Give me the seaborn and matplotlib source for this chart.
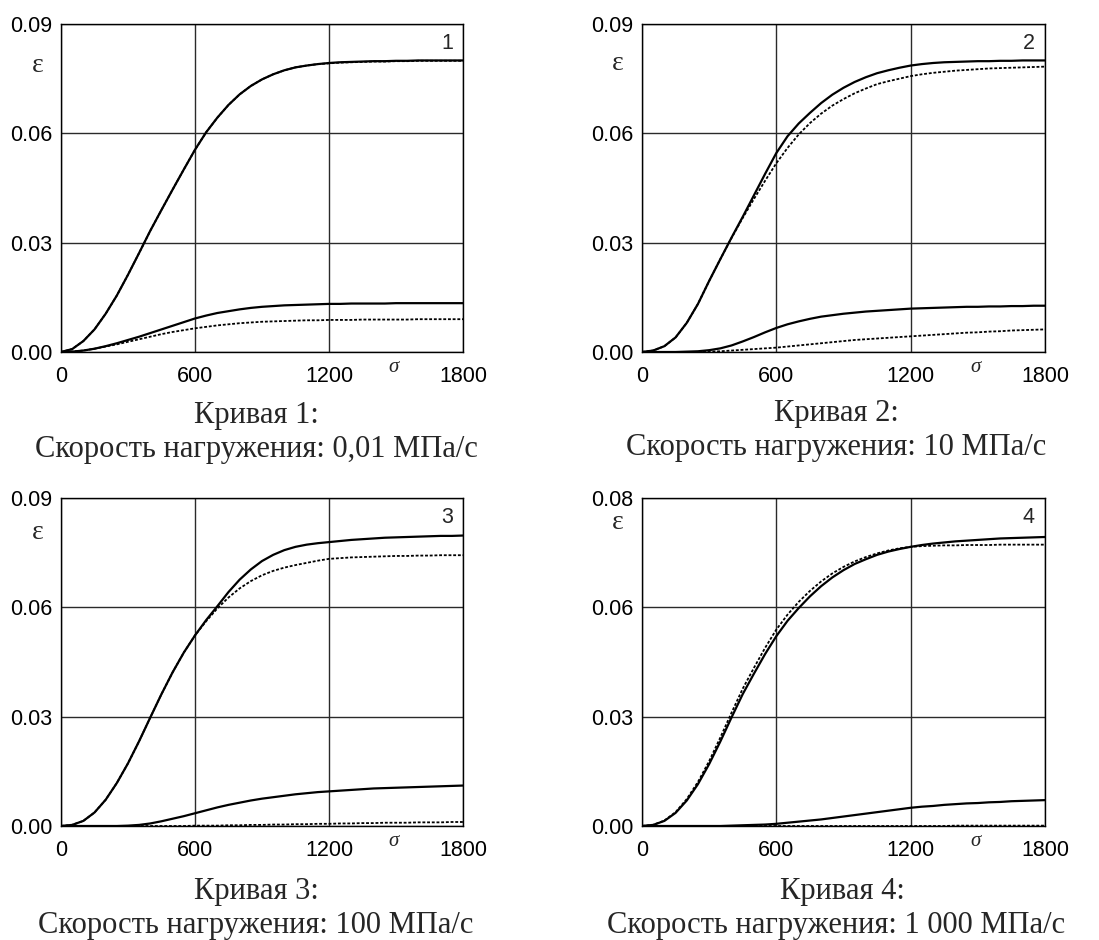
import numpy as np
import pandas as pd
import seaborn as sns
import matplotlib
matplotlib.use("Agg")
import matplotlib.pyplot as plt

sns.set_style("white")
plt.rcParams['font.family'] = ['Liberation Sans', 'DejaVu Sans']

# ---- data, sigma step 50 ----
sigma = [0, 50, 100, 150, 200, 250, 300, 350, 400, 450, 500, 550, 600, 650, 700, 750,
         800, 850, 900, 950, 1000, 1050, 1100, 1150, 1200, 1250, 1300, 1350, 1400,
         1450, 1500, 1550, 1600, 1650, 1700, 1750, 1800]

# Panel 1 (0,01 MPa/s)
p1_upper_solid = [0, 0.0008, 0.0030, 0.0062, 0.0105, 0.0155, 0.0212, 0.0272, 0.0333, 0.0390,
                  0.0446, 0.0501, 0.0555, 0.0603, 0.0643, 0.0678, 0.0707, 0.0730, 0.0748,
                  0.0762, 0.0773, 0.0781, 0.0786, 0.0790, 0.0793, 0.0795, 0.0796, 0.0797,
                  0.0798, 0.0798, 0.0799, 0.0799, 0.0800, 0.0800, 0.0800, 0.0800, 0.0800]
p1_upper_dot = [0, 0.0008, 0.0030, 0.0062, 0.0105, 0.0155, 0.0212, 0.0272, 0.0333, 0.0390,
                0.0446, 0.0501, 0.0555, 0.0603, 0.0643, 0.0678, 0.0707, 0.0730, 0.0748,
                0.0762, 0.0773, 0.0781, 0.0786, 0.0790, 0.0792, 0.0794, 0.0795, 0.0796,
                0.0797, 0.0797, 0.0798, 0.0798, 0.0799, 0.0799, 0.0799, 0.0799, 0.0799]
p1_lower_solid = [0, 0.0001, 0.0004, 0.0009, 0.0016, 0.0024, 0.0033, 0.0042, 0.0052, 0.0062,
                  0.0072, 0.0082, 0.0092, 0.0100, 0.0107, 0.0112, 0.0117, 0.0121, 0.0124,
                  0.0126, 0.0128, 0.0129, 0.0130, 0.0131, 0.0132, 0.0132, 0.0133, 0.0133,
                  0.0133, 0.0133, 0.0134, 0.0134, 0.0134, 0.0134, 0.0134, 0.0134, 0.0134]
p1_lower_dot = [0, 0.0001, 0.0004, 0.0009, 0.0015, 0.0021, 0.0028, 0.0035, 0.0042, 0.0049,
                0.0055, 0.0060, 0.0065, 0.0069, 0.0073, 0.0076, 0.0079, 0.0081, 0.0083,
                0.0084, 0.0085, 0.0086, 0.0087, 0.0087, 0.0088, 0.0088, 0.0088, 0.0089,
                0.0089, 0.0089, 0.0089, 0.0089, 0.0090, 0.0090, 0.0090, 0.0090, 0.0090]

# Panel 2 (10 MPa/s)
p2_upper_solid = [0, 0.0004, 0.0016, 0.0040, 0.0080, 0.0132, 0.0195, 0.0255, 0.0314, 0.0371,
                  0.0430, 0.0489, 0.0546, 0.0592, 0.0627, 0.0656, 0.0683, 0.0706, 0.0725,
                  0.0741, 0.0754, 0.0765, 0.0773, 0.0780, 0.0786, 0.0790, 0.0793, 0.0795,
                  0.0796, 0.0797, 0.0798, 0.0798, 0.0799, 0.0799, 0.0800, 0.0800, 0.0800]
p2_upper_dot = [0, 0.0004, 0.0016, 0.0040, 0.0080, 0.0132, 0.0195, 0.0255, 0.0313, 0.0368,
                0.0420, 0.0470, 0.0518, 0.0560, 0.0597, 0.0628, 0.0654, 0.0676, 0.0694,
                0.0710, 0.0723, 0.0735, 0.0743, 0.0750, 0.0757, 0.0762, 0.0766, 0.0769,
                0.0772, 0.0774, 0.0776, 0.0778, 0.0779, 0.0780, 0.0781, 0.0782, 0.0783]
p2_lower_solid = [0, 0, 0, 0, 0.0001, 0.0002, 0.0005, 0.0010, 0.0018, 0.0029,
                  0.0041, 0.0054, 0.0066, 0.0076, 0.0084, 0.0091, 0.0097, 0.0101, 0.0105,
                  0.0108, 0.0111, 0.0113, 0.0115, 0.0117, 0.0119, 0.0120, 0.0121, 0.0122,
                  0.0123, 0.0124, 0.0124, 0.0125, 0.0125, 0.0126, 0.0126, 0.0127, 0.0127]
p2_lower_dot = [0, 0, 0, 0, 0, 0, 0.0001, 0.0002, 0.0004, 0.0006,
                0.0008, 0.0010, 0.0012, 0.0015, 0.0018, 0.0021, 0.0024, 0.0027, 0.0030,
                0.0033, 0.0035, 0.0037, 0.0039, 0.0041, 0.0043, 0.0045, 0.0047, 0.0049,
                0.0051, 0.0053, 0.0054, 0.0056, 0.0057, 0.0059, 0.0060, 0.0061, 0.0062]

# Panel 3 (100 MPa/s)
p3_upper_solid = [0, 0.0003, 0.0014, 0.0037, 0.0072, 0.0118, 0.0172, 0.0233, 0.0298, 0.0362,
                  0.0422, 0.0476, 0.0523, 0.0565, 0.0603, 0.0642, 0.0676, 0.0704, 0.0727,
                  0.0744, 0.0757, 0.0766, 0.0772, 0.0776, 0.0779, 0.0782, 0.0785, 0.0787,
                  0.0789, 0.0791, 0.0792, 0.0793, 0.0794, 0.0795, 0.0796, 0.0796, 0.0797]
p3_upper_dot = [0, 0.0003, 0.0014, 0.0037, 0.0072, 0.0118, 0.0172, 0.0233, 0.0298, 0.0362,
                0.0422, 0.0476, 0.0523, 0.0562, 0.0597, 0.0627, 0.0652, 0.0672, 0.0688,
                0.0700, 0.0709, 0.0716, 0.0722, 0.0728, 0.0733, 0.0735, 0.0737, 0.0738,
                0.0739, 0.0740, 0.0741, 0.0741, 0.0742, 0.0742, 0.0743, 0.0743, 0.0743]
p3_lower_solid = [0, 0, 0, 0, 0, 0, 0.0001, 0.0003, 0.0007, 0.0013,
                  0.0020, 0.0027, 0.0035, 0.0043, 0.0051, 0.0058, 0.0064, 0.0070, 0.0075,
                  0.0079, 0.0083, 0.0087, 0.0090, 0.0093, 0.0095, 0.0097, 0.0099, 0.0101,
                  0.0103, 0.0104, 0.0105, 0.0106, 0.0107, 0.0108, 0.0109, 0.0110, 0.0111]
p3_lower_dot = [0, 0, 0, 0, 0, 0, 0, 0, 0, 0,
                0, 0, 0.0001, 0.0001, 0.0001, 0.0002, 0.0002, 0.0003, 0.0003,
                0.0004, 0.0004, 0.0005, 0.0005, 0.0006, 0.0006, 0.0007, 0.0007, 0.0008,
                0.0008, 0.0009, 0.0009, 0.0009, 0.0010, 0.0010, 0.0010, 0.0011, 0.0011]

# Panel 4 (1 000 MPa/s)
p4_upper_solid = [0, 0.0003, 0.0014, 0.0036, 0.0070, 0.0115, 0.0170, 0.0232, 0.0298, 0.0362,
                  0.0418, 0.0472, 0.0521, 0.0563, 0.0598, 0.0630, 0.0658, 0.0682, 0.0702,
                  0.0719, 0.0732, 0.0744, 0.0753, 0.0760, 0.0766, 0.0771, 0.0775, 0.0778,
                  0.0781, 0.0783, 0.0785, 0.0787, 0.0789, 0.0790, 0.0791, 0.0792, 0.0793]
p4_upper_dot = [0, 0.0003, 0.0015, 0.0038, 0.0074, 0.0121, 0.0178, 0.0243, 0.0311, 0.0377,
                0.0434, 0.0489, 0.0539, 0.0580, 0.0615, 0.0645, 0.0671, 0.0693, 0.0711,
                0.0726, 0.0738, 0.0748, 0.0756, 0.0762, 0.0766, 0.0768, 0.0769, 0.0770,
                0.0770, 0.0771, 0.0771, 0.0771, 0.0772, 0.0772, 0.0772, 0.0772, 0.0772]
p4_lower_solid = [0, 0, 0, 0, 0, 0, 0, 0, 0.0001, 0.0002,
                  0.0003, 0.0004, 0.0006, 0.0009, 0.0012, 0.0015, 0.0018, 0.0022, 0.0026,
                  0.0030, 0.0034, 0.0038, 0.0042, 0.0046, 0.0050, 0.0053, 0.0055, 0.0058,
                  0.0060, 0.0062, 0.0063, 0.0065, 0.0066, 0.0068, 0.0069, 0.0070, 0.0071]
p4_lower_dot = [0, 0, 0, 0, 0, 0, 0, 0, 0, 0,
                0, 0, 0, 0, 0, 0, 0, 0, 0,
                0, 0, 0, 0, 0, 0, 0, 0, 0,
                0.0001, 0.0001, 0.0001, 0.0001, 0.0001, 0.0001, 0.0001, 0.0001, 0.0001]

x_ticks = [0, 600, 1200, 1800]
x_ticklabels = ["0", "600", "1200", "1800"]
y_ticks = [0.0, 0.03, 0.06, 0.09]
y_ticklabels_std = ["0.00", "0.03", "0.06", "0.09"]
y_ticklabels_p4 = ["0.00", "0.03", "0.06", "0.08"]

panel_numbers = ["1", "2", "3", "4"]
captions_l1 = ["Кривая 1:", "Кривая 2:", "Кривая 3:", "Кривая 4:"]
captions_l2 = ["Скорость нагружения: 0,01 МПа/с", "Скорость нагружения: 10 МПа/с",
               "Скорость нагружения: 100 МПа/с", "Скорость нагружения: 1 000 МПа/с"]

panels = [
    (p1_upper_solid, p1_upper_dot, p1_lower_solid, p1_lower_dot),
    (p2_upper_solid, p2_upper_dot, p2_lower_solid, p2_lower_dot),
    (p3_upper_solid, p3_upper_dot, p3_lower_solid, p3_lower_dot),
    (p4_upper_solid, p4_upper_dot, p4_lower_solid, p4_lower_dot),
]

# ---- layout ----
W, H = 1099, 940
fig = plt.figure(figsize=(W / 100, H / 100), dpi=100)
fig.patch.set_facecolor("white")

# axes boxes in pixels: (left, top, right, bottom)
boxes = [(61, 24, 463, 352), (642, 24, 1045, 352),
         (61, 498, 463, 826), (642, 498, 1045, 826)]
eps_pos = [(-0.057, 0.875), (-0.06, 0.88), (-0.057, 0.896), (-0.06, 0.924)]
cap_x1 = [256, 836, 256, 842]
cap_x2 = [256, 836, 256, 836]
cap_y1 = [416, 414, 892, 892]
cap_y2 = [449, 447, 925, 925]

dot_style = (0, (1.6, 1.0))

for i, (l, t, r, b) in enumerate(boxes):
    ax = fig.add_axes([l / W, 1 - b / H, (r - l) / W, (b - t) / H])
    us, ud, ls, ld = panels[i]
    for vals, style, lw in [(ud, dot_style, 1.3), (ld, dot_style, 1.3),
                            (us, "-", 1.6), (ls, "-", 1.6)]:
        d = pd.DataFrame({"sigma": sigma, "eps": vals})
        sns.lineplot(data=d, x="sigma", y="eps", ax=ax, color="black", lw=lw,
                     linestyle=style)

    ax.set_xlim(0, 1800)
    ax.set_ylim(0, 0.09)
    ax.set_xticks(x_ticks)
    ax.set_xticklabels(x_ticklabels)
    ax.set_yticks(y_ticks)
    ax.set_yticklabels(y_ticklabels_p4 if i == 3 else y_ticklabels_std)
    ax.set_xlabel("")
    ax.set_ylabel("")
    ax.grid(True, color="#2a2a2a", lw=1.0)
    ax.set_axisbelow(True)
    ax.tick_params(axis="both", length=0, labelsize=15.5, colors="black")
    ax.tick_params(axis="x", pad=10)
    ax.tick_params(axis="y", pad=6)
    for s in ax.spines.values():
        s.set_visible(True)
        s.set_color("black")
        s.set_linewidth(1.0)

    ax.text(0.96, 0.94 if i < 2 else 0.942, panel_numbers[i], transform=ax.transAxes,
            ha="center", va="center", fontsize=15.5)
    ax.text(eps_pos[i][0], eps_pos[i][1], "ε", transform=ax.transAxes,
            ha="center", va="center", fontsize=20, family="Liberation Serif")
    ax.text(0.828, -0.048, "σ", transform=ax.transAxes, ha="center", va="center",
            fontsize=15, family="Liberation Serif", style="italic")

    fig.text(cap_x1[i] / W, 1 - cap_y1[i] / H, captions_l1[i], ha="center", va="center",
             fontsize=22, family="Liberation Serif")
    fig.text(cap_x2[i] / W, 1 - cap_y2[i] / H, captions_l2[i], ha="center", va="center",
             fontsize=22, family="Liberation Serif")

fig.savefig("out.png", dpi=100, facecolor="white")
